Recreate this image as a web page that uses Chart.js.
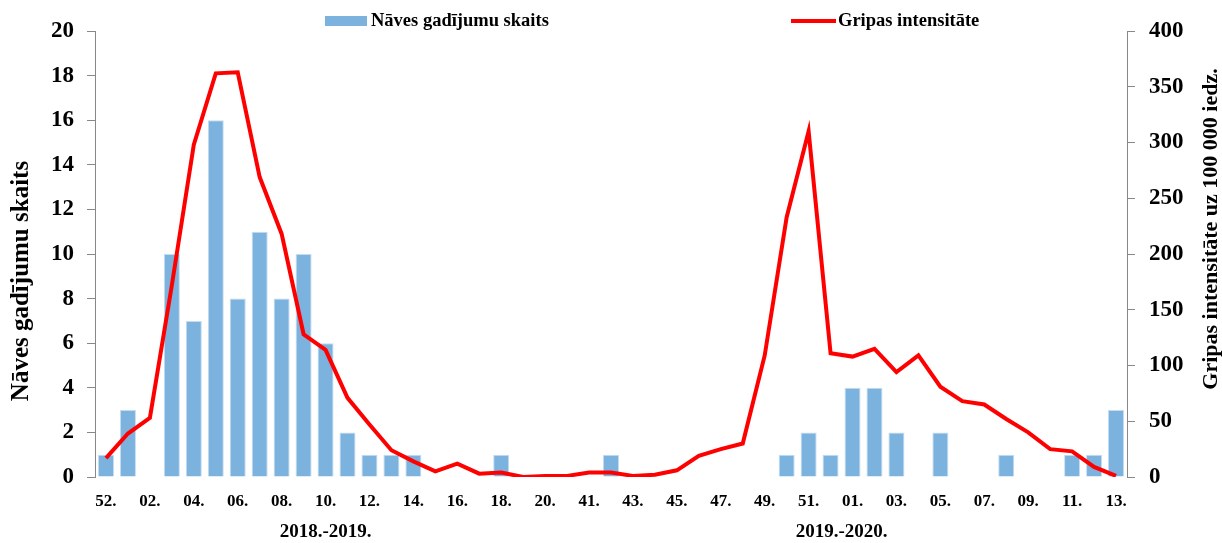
<!DOCTYPE html>
<html>
<head>
<meta charset="utf-8">
<script src="https://cdn.jsdelivr.net/npm/chart.js@4"></script>
<style>
  body { margin: 0; background: #fff; }
  #wrap { width: 1222px; height: 543px; position: relative; }
</style>
</head>
<body>
<div id="wrap"><canvas id="flu"></canvas></div>
<script>
// nedēļas (2018.-2019. un 2019.-2020. sezona)
const weeks = ["52.","01.","02.","03.","04.","05.","06.","07.","08.","09.","10.",
  "11.","12.","13.","14.","15.","16.","17.","18.","19.","20.",
  "40.","41.","42.","43.","44.","45.","46.","47.","48.","49.","50.","51.","52.",
  "01.","02.","03.","04.","05.","06.","07.","08.","09.","10.","11.","12.","13."];
const deaths = [1,3,0,10,7,16,8,11,8,10,6,2,1,1,1,0,0,0,1,0,0,
  0,0,1,0,0,0,0,0,0,0,1,2,1,
  4,4,2,0,2,0,0,1,0,0,1,1,3];
const intensity = [17,39,53,172,298,362,363,269,218,128,114,71,47,24,14,5,12,3,4,0,1,
  1,4,4,1,2,6,19,25,30,109,233,310,111,
  108,115,94,109,81,68,65,52,40,25,23,9,1];
const seasons = ["2018.-2019.", "2019.-2020."];
const seasonCenters = [10, 33.5];   // vidus indekss katrai sezonai
const leftTicks = [0,2,4,6,8,10,12,14,16,18,20];
const rightTicks = [0,50,100,150,200,250,300,350,400];
const leftTitle = "Nāves gadījumu skaits";
const rightTitle = "Gripas intensitāte uz 100 000 iedz.";

const barColor = "rgb(123,178,222)";
const lineColor = "#ff0000";
const serif = "'Liberation Serif', 'Times New Roman', serif";

function vertText(ctx, text, x, y) {
  ctx.save();
  ctx.translate(x, y);
  ctx.rotate(-Math.PI / 2);
  ctx.fillText(text, 0, 0);
  ctx.restore();
}

const extras = {
  id: "extras",
  afterDraw(chart) {
    const ctx = chart.ctx;
    ctx.save();
    ctx.fillStyle = "#000";
    ctx.textBaseline = "middle";
    // legenda
    ctx.font = "bold 18.5px " + serif;
    ctx.fillStyle = barColor;
    ctx.fillRect(325, 16, 42, 10);
    ctx.fillStyle = "#000";
    ctx.fillText("Nāves gadījumu skaits", 371, 21);
    ctx.strokeStyle = lineColor;
    ctx.lineWidth = 4;
    ctx.beginPath(); ctx.moveTo(791, 21); ctx.lineTo(836, 21); ctx.stroke();
    ctx.fillText("Gripas intensitāte", 838, 21);
    // asu nosaukumi
    ctx.textAlign = "center";
    ctx.font = "bold 25px " + serif;
    vertText(ctx, leftTitle, 22, 281);
    ctx.font = "bold 22px " + serif;
    vertText(ctx, rightTitle, 1211, 229);
    // sezonu nosaukumi
    const x = chart.scales.x;
    ctx.font = "bold 19px " + serif;
    seasons.forEach((s, i) => {
      ctx.fillText(s, x.getPixelForValue(seasonCenters[i]), 532);
    });
    ctx.restore();
  }
};

new Chart(document.getElementById("flu"), {
  data: {
    labels: weeks,
    datasets: [
      {
        type: "line",
        label: "Gripas intensitāte",
        data: intensity,
        yAxisID: "y1",
        borderColor: lineColor,
        borderWidth: 4,
        pointRadius: 0,
        tension: 0,
        order: 0
      },
      {
        type: "bar",
        label: "Nāves gadījumu skaits",
        data: deaths,
        yAxisID: "y",
        backgroundColor: barColor,
        borderColor: "#c4dcf1",
        borderWidth: 1,
        categoryPercentage: 1,
        barPercentage: 0.73,
        order: 1
      }
    ]
  },
  options: {
    responsive: true,
    maintainAspectRatio: false,
    animation: false,
    layout: { padding: { top: 31, bottom: 0, left: 0, right: 0 } },
    plugins: { legend: { display: false }, tooltip: { enabled: false } },
    scales: {
      x: {
        grid: { display: false, drawTicks: false },
        border: { display: false },
        ticks: {
          autoSkip: false,
          maxRotation: 0,
          padding: 14,
          color: "#000",
          font: { family: serif, size: 17, weight: "bold" },
          callback: (v, i) => (i % 2 === 0 ? weeks[i] : "")
        },
        afterFit: s => { s.height = 66; }
      },
      y: {
        position: "left",
        min: 0, max: 20,
        afterBuildTicks: s => { s.ticks = leftTicks.map(v => ({ value: v })); },
        grid: { display: true, drawOnChartArea: false, drawTicks: true, tickLength: 8, color: "#888" },
        border: { display: true, color: "#888", width: 1 },
        ticks: { padding: 13, color: "#000", font: { family: serif, size: 23, weight: "bold" } },
        afterFit: s => { s.width = 95; }
      },
      y1: {
        position: "right",
        min: 0, max: 400,
        afterBuildTicks: s => { s.ticks = rightTicks.map(v => ({ value: v })); },
        grid: { display: true, drawOnChartArea: false, drawTicks: true, tickLength: 8, color: "#888" },
        border: { display: true, color: "#888", width: 1 },
        ticks: { padding: 14, color: "#000", font: { family: serif, size: 23, weight: "bold" } },
        afterFit: s => { s.width = 95; }
      }
    }
  },
  plugins: [extras]
});
</script>
</body>
</html>
